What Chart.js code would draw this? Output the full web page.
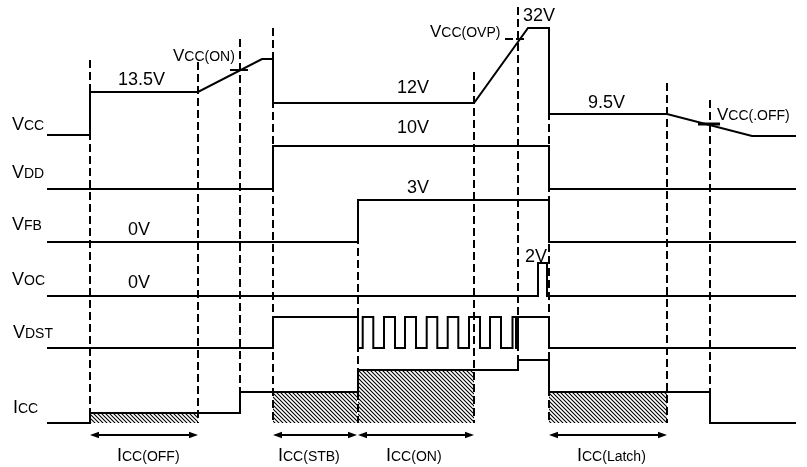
<!DOCTYPE html>
<html><head><meta charset="utf-8">
<script src="https://cdn.jsdelivr.net/npm/chart.js@4/dist/chart.umd.min.js"></script>
<style>html,body{margin:0;padding:0;background:#fff}#wrap{width:807px;height:467px;position:relative}</style>
</head><body><div id="wrap"><canvas id="c"></canvas></div>
<script>
// ---- data: time (arbitrary units) and levels above each row's baseline ----
const vccT = [0,43,43,151,215,226,226,427,481,502,502,620,705,749];
const vccH = [0,0,43,43,76,76,32,32,107,107,21,21,-1,-1];
const vddEdges = [0,226,502,749];           const vddLevels = [0,43,0];
const vfbEdges = [0,311,502,749];           const vfbLevels = [0,42,0];
const vocEdges = [0,491,500,749];           const vocLevels = [0,33,0];
const vdstEdges = [0,226,311,315.7,326.3,337,348,358,369,379.7,390.3,400.7,411.3,422,433,443,454,465.5,469,471,502,749];
const vdstLevels = [0,31,0,31,0,31,0,31,0,31,0,31,0,31,0,31,0,31,0,31,0];
const iccEdges = [0,43,193,311,471,502,663,749];
const iccLevels = [0,10,31,53,63,31,0];
const guideT      = [43,151,193,226,311,427,471,502,620,663];
const guideTop    = [407,405,428,439,267,395,460,439,384,367];
const guideBottom = [44,44,75,44,44,44,107,44,44,75];
const currentIntervals = [[43,151],[226,310],[311,427],[502,620]];
const hatchLevels = [10,31,53,31];
const rowNames = [['V','CC'],['V','DD'],['V','FB'],['V','OC'],['V','DST'],['I','CC']];
const valueTexts = ['13.5V','12V','10V','3V','0V','0V','2V','32V','9.5V'];
const thresholdNames = [['V','CC(ON)'],['V','CC(OVP)'],['V','CC(.OFF)']];
const currentNames = [['I','CC(OFF)'],['I','CC(STB)'],['I','CC(ON)'],['I','CC(Latch)']];
// threshold crossing marks [t0,t1,level]
const thresholdMarks = [[183,201,397],[458,466,428],[469,477,428],[651,673,343]];

// ---- layout (positions only) ----
const rowBase = [332,278,225,171,119,44];
const rowLabelPos = [[-35,337],[-35,289],[-35,237],[-35,182],[-34,129],[-34,54]];
const valuePos = [[71,382],[350,374],[350,334],[360,274],[81,232],[81,179],[478,205],[476,446],[541,359]];
const thresholdPos = [[126,406],[383,430],[670,347]];
const currentLabelY = 6, arrowY = 32;
const currentLabelX = [70,231,339,530];
const FONT = '"Liberation Sans", Arial, Helvetica, sans-serif';

function steps(edges, levels, base){
  const p=[];
  for(let i=0;i<levels.length;i++){
    p.push({x:edges[i],y:base+levels[i]});
    p.push({x:edges[i+1],y:base+levels[i]});
  }
  return p;
}
function pts(ts,hs,base){return ts.map((t,i)=>({x:t,y:base+hs[i]}));}

// hatch pattern
const pc=document.createElement('canvas'); pc.width=4; pc.height=4;
const g=pc.getContext('2d'); g.strokeStyle='#000'; g.lineWidth=1.1;
g.beginPath(); g.moveTo(-1,-1); g.lineTo(5,5); g.moveTo(-1,3); g.lineTo(1,5); g.moveTo(3,-1); g.lineTo(5,1); g.stroke();
const hatch=g.createPattern(pc,'repeat');

const trace = (data)=>({data, borderColor:'#000', borderWidth:2, pointRadius:0, showLine:true, fill:false, tension:0, order:0});
const datasets = [
  trace(pts(vccT,vccH,rowBase[0])),
  trace(steps(vddEdges,vddLevels,rowBase[1])),
  trace(steps(vfbEdges,vfbLevels,rowBase[2])),
  trace(steps(vocEdges,vocLevels,rowBase[3])),
  trace(steps(vdstEdges,vdstLevels,rowBase[4])),
  trace(steps(iccEdges,iccLevels,rowBase[5])),
];
thresholdMarks.forEach((m,i)=>datasets.push({data:[{x:m[0],y:m[2]},{x:m[1],y:m[2]}],borderColor:'#000',borderWidth:i===3?3:2,pointRadius:0,showLine:true,order:1}));
guideT.forEach((t,i)=>datasets.push({data:[{x:t,y:guideTop[i]},{x:t,y:guideBottom[i]}],borderColor:'#000',borderWidth:2,borderDash:[8,4],pointRadius:0,showLine:true,order:2}));
currentIntervals.forEach((iv,i)=>datasets.push({data:[{x:iv[0],y:rowBase[5]+hatchLevels[i]},{x:iv[1],y:rowBase[5]+hatchLevels[i]}],borderWidth:0,borderColor:'rgba(0,0,0,0)',backgroundColor:hatch,fill:{value:rowBase[5]},pointRadius:0,showLine:true,order:3}));

function richText(ctx,x,y,parts){
  let cx=x;
  parts.forEach(([txt,size])=>{ctx.font=size+'px '+FONT; ctx.fillText(txt,cx,y); cx+=ctx.measureText(txt).width;});
}
const textPlugin={id:'texts',afterDatasetsDraw(chart){
  const ctx=chart.ctx, xs=chart.scales.x, ys=chart.scales.y;
  const X=v=>xs.getPixelForValue(v), Y=v=>ys.getPixelForValue(v);
  ctx.save(); ctx.fillStyle='#000'; ctx.strokeStyle='#000'; ctx.textBaseline='alphabetic';
  rowNames.forEach((n,i)=>richText(ctx,X(rowLabelPos[i][0]),Y(rowLabelPos[i][1]),[[n[0],18],[n[1],14]]));
  valueTexts.forEach((s,i)=>richText(ctx,X(valuePos[i][0]),Y(valuePos[i][1]),[[s,18]]));
  thresholdNames.forEach((n,i)=>richText(ctx,X(thresholdPos[i][0]),Y(thresholdPos[i][1]),[[n[0],17],[n[1],14]]));
  currentNames.forEach((n,i)=>richText(ctx,X(currentLabelX[i]),Y(currentLabelY),[[n[0],18],[n[1],14]]));
  // arrows
  currentIntervals.forEach(iv=>{
    const x0=X(iv[0]),x1=X(iv[1]),y=Y(arrowY), L=9, W=3.2;
    ctx.lineWidth=2; ctx.beginPath(); ctx.moveTo(x0+4,y); ctx.lineTo(x1-4,y); ctx.stroke();
    ctx.beginPath(); ctx.moveTo(x0,y); ctx.lineTo(x0+L,y-W); ctx.lineTo(x0+L,y+W); ctx.closePath(); ctx.fill();
    ctx.beginPath(); ctx.moveTo(x1,y); ctx.lineTo(x1-L,y-W); ctx.lineTo(x1-L,y+W); ctx.closePath(); ctx.fill();
  });
  ctx.restore();
}};

new Chart(document.getElementById('c'),{
  type:'scatter',
  data:{datasets},
  options:{
    responsive:true, maintainAspectRatio:false, animation:false, events:[],
    layout:{padding:0},
    plugins:{legend:{display:false},tooltip:{enabled:false}},
    scales:{
      x:{type:'linear',min:-47,max:760,display:false},
      y:{type:'linear',min:0,max:467,display:false}
    }
  },
  plugins:[textPlugin]
});
</script></body></html>
